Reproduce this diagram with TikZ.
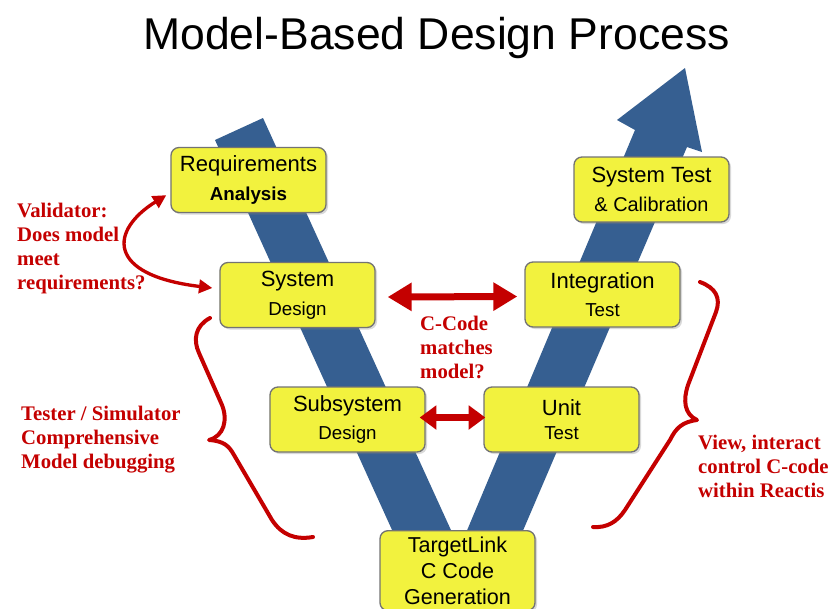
\documentclass[tikz,border=0pt]{standalone}
\usepackage{fontspec}
\setmainfont{Liberation Serif}
\setsansfont{Liberation Sans}
\usetikzlibrary{arrows.meta,calc,shadows}

\definecolor{vblue}{RGB}{54,95,145}
\definecolor{boxyellow}{RGB}{242,242,62}
\definecolor{notered}{RGB}{196,0,0}

\newcommand{\lineA}{\fontsize{18.8}{21.3}\selectfont}
\newcommand{\lineB}{\fontsize{16}{21.3}\selectfont}

\tikzset{
	stage/.style={draw=black!55, line width=0.4mm, fill=boxyellow, rounded corners=2.4mm,
		minimum width=4.65cm, minimum height=1.95cm, align=center, font=\sffamily,
		drop shadow={opacity=0.3, shadow xshift=0.6mm, shadow yshift=-0.6mm}},
	note/.style={text=notered, font=\bfseries\fontsize{17.7}{20.5}\selectfont,
		align=left, anchor=north west, inner sep=0pt},
	bigarrow/.style={notered, line width=2.1mm,
		{Triangle[width=8.1mm,length=7.2mm]}-{Triangle[width=8.1mm,length=7.2mm]}},
	midarrow/.style={notered, line width=2.2mm,
		{Triangle[width=7mm,length=5mm]}-{Triangle[width=7mm,length=5mm]}},
	thinarrow/.style={notered, line width=1mm,
		{Triangle[width=4mm,length=4mm]}-{Triangle[width=4mm,length=4mm]}},
	brace/.style={notered, line width=1.2mm, line cap=round, line join=round}
}

\begin{document}
\begin{tikzpicture}[x=0.03cm, y=-0.03cm]
	\useasboundingbox (0, 0) rectangle (834, 608);

	\node[font=\sffamily\fontsize{38}{40}\selectfont, anchor=base] (title) at (436.5, 49) {Model-Based Design Process};

	% the V
	\fill[vblue] (215, 140) -- (263, 118) -- (455.5, 540) -- (396.6, 540) -- cycle;
	\fill[vblue] (463, 540) -- (635, 130) -- (617, 120) -- (685, 68) -- (702, 152) -- (687, 147) -- (519, 540) -- cycle;

	\node[stage] (req) at (248.5, 180) {\lineA Requirements\\[8pt]\lineB\bfseries Analysis};
	\node[stage] (sysdes) at (297.5, 295) {\lineA System\\[8pt]\lineB Design};
	\node[stage] (systest) at (651.5, 189.5) {\lineA System Test\\[7pt]\fontsize{17}{21.3}\selectfont\& Calibration};
	\node[stage] (inttest) at (602.5, 294.5) {\lineA Integration\\[8pt]\lineB Test};
	\node[stage] (subdes) at (347.5, 419.5) {\lineA Subsystem\\[8pt]\lineB Design};
	\node[stage] (unit) at (561.5, 419.5) {\lineA Unit\\[8pt]\lineB Test};
	\node[stage, anchor=north, minimum height=2.4cm, font=\sffamily\fontsize{18.4}{22.5}\selectfont] (tlink) at (457.5, 530) {TargetLink\\C Code\\Generation};

	\draw[bigarrow] ($(sysdes.east)+(12, 2)$) -- ($(inttest.west)+(-7, 2)$);
	\draw[midarrow] ($(subdes.east)+(-6, -2)$) -- ($(unit.west)+(2, -2)$);
	\draw[thinarrow] ($(req.south west)+(-4, -18)$) .. controls (110, 230) and (105, 275) .. ($(sysdes.west)+(-7, -7)$);

	% braces
	\draw[brace] (210, 318) .. controls (195, 326) and (193, 340) .. (199, 353) -- (222, 405)
		.. controls (228, 420) and (224, 436) .. (209, 440) .. controls (224, 441) and (229, 446) .. (234, 455)
		-- (272, 520) .. controls (282, 535) and (295, 540) .. (313, 537);
	\draw[brace] (700, 282) .. controls (716, 288) and (721, 298) .. (716, 312) -- (688, 385)
		.. controls (683, 400) and (684, 414) .. (697, 420) .. controls (682, 422) and (676, 428) .. (670, 440)
		-- (625, 510) .. controls (617, 522) and (607, 528) .. (593, 527);

	\node[note] (valid) at (17, 203) {Validator:\\Does model\\meet\\requirements?};
	\node[note] (tester) at (21, 406) {Tester / Simulator\\Comprehensive\\Model debugging};
	\node[note] (match) at (420, 316) {C-Code\\matches\\model?};
	\node[note] (view) at (698, 435) {View, interact\\control C-code\\within Reactis};
\end{tikzpicture}
\end{document}
